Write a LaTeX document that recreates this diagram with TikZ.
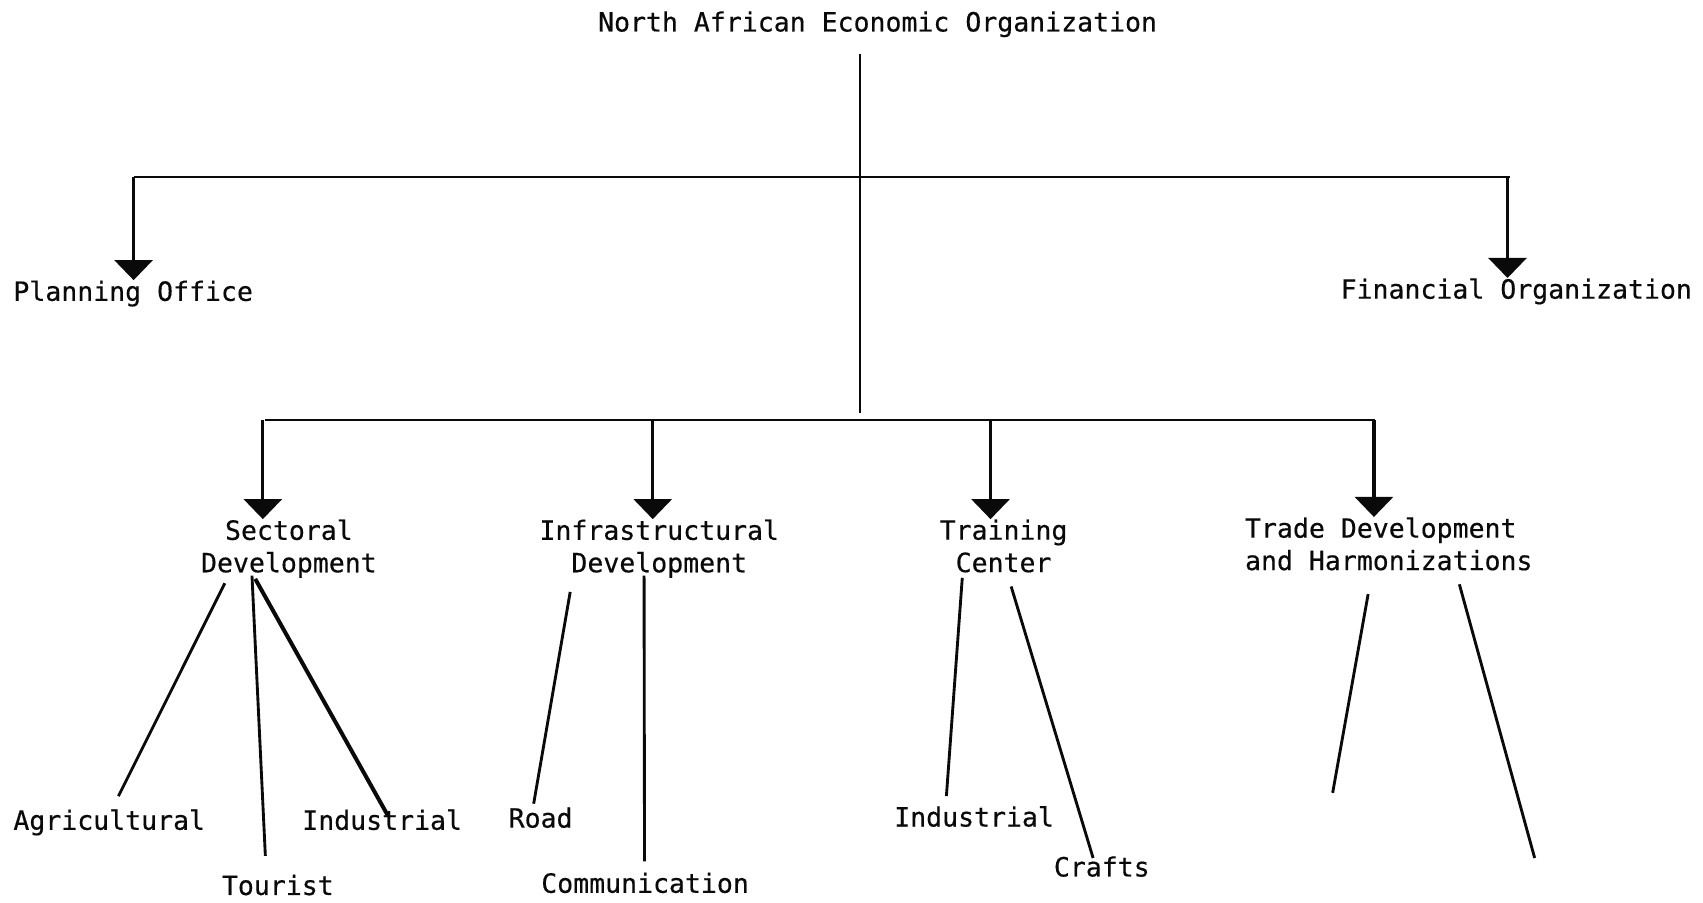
\documentclass[tikz,border=0pt]{standalone}
\usepackage{fontspec}
\usepackage{xcolor}
\usepackage{tikz}
\usetikzlibrary{arrows.meta}
\setmonofont{DejaVu Sans Mono}[FakeBold=0.4]
\definecolor{ink}{RGB}{10, 10, 10}

\begin{document}
\begin{tikzpicture}[x=0.02cm, y=-0.02cm,
        every node/.style={font=\ttfamily\fontsize{13.9}{17}\selectfont, text=ink, inner sep=0pt},
        bar/.style={ink, line width=1.2pt},
        drop/.style={ink, line width=1.7pt, -{Triangle[width=7mm, length=3.7mm]}},
        branch/.style={ink, line width=1.5pt}]
        \fill[white] (0,0) rectangle (1568,831);
        \useasboundingbox (0,0) rectangle (1568,831);

        % head and first level
        \node[anchor=base] (org) at (808,29) {North African Economic Organization};
        \node[anchor=base west] (plan) at (12,277) {Planning Office};
        \node[anchor=base west] (fin) at (1234,275) {Financial Organization};

        % divisions
        \node[anchor=north, align=center] (sect) at (266,478) {Sectoral\\Development};
        \node[anchor=north, align=center] (infra) at (607,478) {Infrastructural\\Development};
        \node[anchor=north, align=center] (train) at (924,478) {Training\\Center};
        \node[anchor=north west, align=left] (trade) at (1146,476) {Trade Development\\and Harmonizations};

        % units
        \node[anchor=base west] (agri) at (12,764) {Agricultural};
        \node[anchor=base west] (tour) at (204,824) {Tourist};
        \node[anchor=base west] (indS) at (278,764) {Industrial};
        \node[anchor=base west] (road) at (468,762) {Road};
        \node[anchor=base west] (comm) at (498,822) {Communication};
        \node[anchor=base west] (indT) at (823,761) {Industrial};
        \node[anchor=base west] (crafts) at (970,807) {Crafts};

        \coordinate (topL) at (123,163);
        \coordinate (topR) at (1390,163);
        \coordinate (hub) at (792,163);
        \coordinate (lowL) at (244,387);
        \coordinate (lowR) at (1266,387);
        \coordinate (tradeL) at (1227,730);
        \coordinate (tradeR) at (1413,790);

        % bars and trunk
        \draw[bar] (topL) -- (topR);
        \draw[bar] (lowL) -- (lowR);
        \draw[bar] (org.south -| hub) ++(0,15) -- (792,380);

        \draw[drop] (topL) -- (topL |- plan.north);
        \draw[drop] (1388,163) -- (1388,0 |- fin.north);
        \foreach \n/\x in {sect/242, infra/601, train/912, trade/1265}
            \draw[drop] (\x,387) -- (\x,0 |- \n.north);

        % branches
        \draw[branch] ([shift={(-59,59)}]sect.north) -- ([shift={(8.5,-31)}]agri.base);
        \draw[branch] ([shift={(-34,52)}]sect.north) -- ([shift={(-11.5,-36)}]tour.base);
        \draw[branch, line width=2.1pt] ([shift={(-31,55)}]sect.north) -- ([shift={(5.3,-13)}]indS.base);
        \draw[branch] ([shift={(-82,67)}]infra.north) -- ([shift={(-6.4,-22)}]road.base);
        \draw[branch] ([shift={(-14,52)}]infra.north) -- ([shift={(-0.5,-29)}]comm.base);
        \draw[branch] ([shift={(-38,54)}]train.north) -- ([shift={(-25.5,-28)}]indT.base);
        \draw[branch] ([shift={(7,62)}]train.north) -- ([shift={(-8,-17)}]crafts.base);
        \draw[branch] ([shift={(-19,71)}]trade.north) -- (tradeL);
        \draw[branch] ([shift={(65,62)}]trade.north) -- (tradeR);
\end{tikzpicture}
\end{document}
